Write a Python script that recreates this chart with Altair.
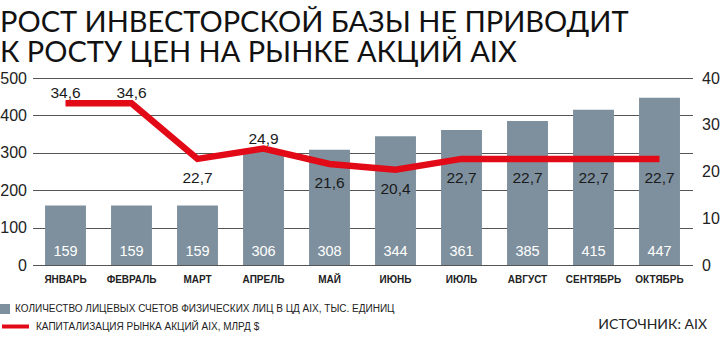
import altair as alt
import pandas as pd

months = ["ЯНВАРЬ", "ФЕВРАЛЬ", "МАРТ", "АПРЕЛЬ", "МАЙ", "ИЮНЬ", "ИЮЛЬ", "АВГУСТ", "СЕНТЯБРЬ", "ОКТЯБРЬ"]
accounts = [159, 159, 159, 306, 308, 344, 361, 385, 415, 447]
capitalization = [34.6, 34.6, 22.7, 24.9, 21.6, 20.4, 22.7, 22.7, 22.7, 22.7]
above_months = ["ЯНВАРЬ", "ФЕВРАЛЬ", "АПРЕЛЬ"]

title_lines = ["РОСТ ИНВЕСТОРСКОЙ БАЗЫ НЕ ПРИВОДИТ", "К РОСТУ ЦЕН НА РЫНКЕ АКЦИЙ AIX"]
bar_name = "КОЛИЧЕСТВО ЛИЦЕВЫХ СЧЕТОВ ФИЗИЧЕСКИХ ЛИЦ В ЦД AIX, ТЫС. ЕДИНИЦ"
line_name = "КАПИТАЛИЗАЦИЯ РЫНКА АКЦИЙ AIX, МЛРД $"
source_text = "ИСТОЧНИК: AIX"

df = pd.DataFrame({"month": months, "accounts": accounts, "cap": capitalization})
df["cap_label"] = [f"{v:.1f}".replace(".", ",") for v in capitalization]
df["bar_series"] = bar_name
df["line_series"] = line_name
df["pos"] = ["above" if m in above_months else "below" for m in months]

NARROW = "Liberation Sans Narrow, Arial Narrow, Liberation Sans, sans-serif"
GEO = "Lato, Open Sans, sans-serif"
BAR = "#7e909d"
RED = "#e30a17"
INK = "#1a1a1a"

x = alt.X(
    "month:N", sort=months,
    scale=alt.Scale(paddingInner=0.38, paddingOuter=0.19),
    axis=alt.Axis(title=None, labelAngle=0, ticks=False, domain=False, labelFont=NARROW,
                  labelFontSize=10, labelFontWeight="bold", labelColor="#222", labelPadding=9),
)

y_left_axis = alt.Axis(title=None, values=[0, 100, 200, 300, 400, 500], grid=True, gridColor="#555",
                       gridWidth=1, ticks=False, domain=False, labelFont=NARROW, labelFontSize=16,
                       labelColor="#222", labelPadding=6, labelOverlap=False)
y_right_axis = alt.Axis(title=None, orient="right", values=[0, 10, 20, 30, 40], grid=False, ticks=False,
                        domain=False, labelFont=NARROW, labelFontSize=16, labelColor="#222",
                        labelPadding=9, labelOverlap=False)

def yl(field):
    return alt.Y(field, scale=alt.Scale(domain=[0, 500], nice=False), axis=y_left_axis)

def yr(field):
    return alt.Y(field, scale=alt.Scale(domain=[0, 40], nice=False), axis=y_right_axis)

base = alt.Chart(df)

bars = base.mark_bar().encode(
    x=x, y=yl("accounts:Q"),
    fill=alt.Fill("bar_series:N", scale=alt.Scale(domain=[bar_name], range=[BAR]),
                  legend=alt.Legend(title=None, orient="none", legendX=-32.5, legendY=226,
                                    symbolType="square", symbolSize=100, symbolStrokeWidth=0,
                                    labelFont=NARROW, labelFontSize=10, labelColor="#222",
                                    labelLimit=0, labelOffset=5, padding=0)),
)
bar_text = base.mark_text(color="white", fontSize=14.5, font=NARROW, dy=-13, baseline="middle").encode(
    x=x, y=alt.YDatum(0, axis=y_left_axis), text="accounts:Q"
)
left = alt.layer(bars, bar_text)

line = base.mark_line(strokeWidth=6.5).encode(
    x=x, y=yr("cap:Q"),
    stroke=alt.Stroke("line_series:N", scale=alt.Scale(domain=[line_name], range=[RED]),
                      legend=alt.Legend(title=None, orient="none", legendX=-32.5, legendY=233,
                                        symbolType="stroke", symbolSize=729, symbolStrokeWidth=4,
                                        labelFont=NARROW, labelFontSize=10, labelColor="#222",
                                        labelLimit=0, labelOffset=5, padding=0)),
)
lab_above = base.mark_text(fontSize=15.5, font=NARROW, color=INK, dy=-10, baseline="middle").encode(
    x=x, y=yr("cap:Q"), text="cap_label:N"
).transform_filter(alt.datum.pos == "above")
lab_below = base.mark_text(fontSize=15.5, font=NARROW, color=INK, dy=19, baseline="middle").encode(
    x=x, y=yr("cap:Q"), text="cap_label:N"
).transform_filter(alt.datum.pos == "below")
right = alt.layer(line, lab_above, lab_below)

src = alt.Chart(pd.DataFrame({"t": [source_text]})).mark_text(
    align="right", baseline="middle", font=GEO, fontSize=14, color="#222"
).encode(x=alt.value(674.5), y=alt.value(247), text="t:N")

chart = alt.layer(left, right, src).resolve_scale(y="independent").properties(
    width=660, height=187,
    autosize=alt.AutoSizeParams(type="none"),
    padding={"left": 32.5, "top": 78, "right": 27.5, "bottom": 86},
    background="white",
    title=alt.Title(text=title_lines, anchor="start", frame="group", dx=-32.5, offset=2,
                    fontSize=29, font=GEO, fontWeight="normal", color="#111", lineHeight=30.5),
).configure_view(stroke=None)

chart.save("out.html", embed_options={"renderer": "svg", "actions": False})
